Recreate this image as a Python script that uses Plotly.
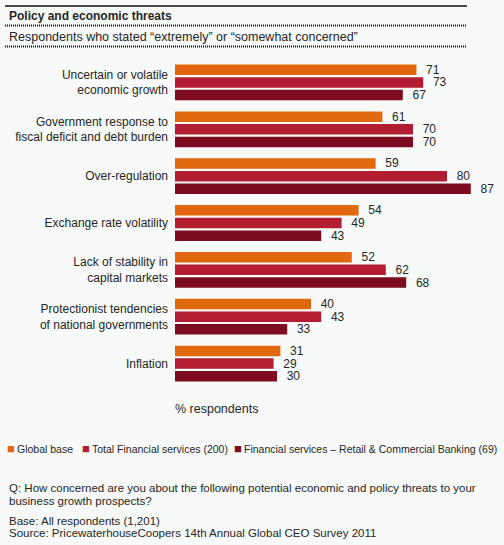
import plotly.graph_objects as go

# data
threats = [
    "Uncertain or volatile<br>economic growth",
    "Government response to<br>fiscal deficit and debt burden",
    "Over-regulation",
    "Exchange rate volatility",
    "Lack of stability in<br>capital markets",
    "Protectionist tendencies<br>of national governments",
    "Inflation",
]
global_base = [71, 61, 59, 54, 52, 40, 31]
total_fs = [73, 70, 80, 49, 62, 43, 29]
retail_banking = [67, 70, 87, 43, 68, 33, 30]

series_names = [
    "Global base",
    "Total Financial services (200)",
    "Financial services \u2013 Retail & Commercial Banking (69)",
]
colors = ["#E1680F", "#B31D32", "#7D0C20"]

W, H = 504, 545
L, R, T, B = 175, 4, 59, 158
PW, PH = W - L - R, H - T - B
BG = "#F7FAF8"
FONT = "Arial, Liberation Sans, sans-serif"
TXT = "#262626"


def px_x(px):
    return (px - L) / PW


def px_y(py):
    return (H - B - py) / PH


fig = go.Figure()
for name, vals, col in zip(series_names, [global_base, total_fs, retail_banking], colors):
    fig.add_trace(go.Bar(
        y=threats, x=vals, name=name, orientation="h",
        marker=dict(color=col, line=dict(width=0)),
        text=vals, texttemplate="\u00a0\u00a0%{text}", textposition="outside",
        constraintext="none",
        textfont=dict(size=12, color=TXT, family=FONT),
        cliponaxis=False, showlegend=False,
    ))

fig.update_layout(
    width=W, height=H,
    margin=dict(l=L, r=R, t=T, b=B),
    barmode="group", bargap=0.19, bargroupgap=0.17,
    paper_bgcolor=BG, plot_bgcolor=BG,
    font=dict(family=FONT, size=12, color=TXT),
    xaxis=dict(range=[0, PW / 3.4], showgrid=False, zeroline=False,
               showticklabels=False, ticks=""),
    yaxis=dict(autorange="reversed", categoryorder="array", categoryarray=threats,
               showgrid=False, ticks="", ticklabelstandoff=6,
               tickfont=dict(size=12, color=TXT)),
)

# header lines
fig.add_shape(type="line", xref="paper", yref="paper",
              x0=px_x(5), x1=px_x(467), y0=px_y(6), y1=px_y(6),
              line=dict(color="#111111", width=1.5))
for yy in [25.5, 46.5]:
    fig.add_shape(type="line", xref="paper", yref="paper",
                  x0=px_x(5), x1=px_x(467), y0=px_y(yy), y1=px_y(yy),
                  line=dict(color="#111111", width=2, dash="1px,1px"))

notes = [
    ("<b>Policy and economic threats</b>", 7, 16, 12),
    ("Respondents who stated \u201cextremely\u201d or \u201csomewhat concerned\u201d", 7, 36.5, 12.5),
    ("Q: How concerned are you about the following potential economic and policy threats to your", 7, 488, 11.5),
    ("business growth prospects?", 7, 500.5, 11.5),
    ("Base: All respondents (1,201)", 7, 520.5, 11.5),
    ("Source: PricewaterhouseCoopers 14th Annual Global CEO Survey 2011", 7, 533, 11.5),
]
for txt, x, y, size in notes:
    fig.add_annotation(text=txt, xref="paper", yref="paper", x=px_x(x), y=px_y(y),
                       xanchor="left", yanchor="middle", showarrow=False,
                       font=dict(size=size, color=TXT, family=FONT))

fig.add_annotation(text="% respondents", xref="paper", yref="paper",
                   x=px_x(216), y=px_y(409), xanchor="center", yanchor="middle",
                   showarrow=False, font=dict(size=12.5, color=TXT, family=FONT))

# legend drawn as annotations
legend_x = [5, 80, 232]
for name, col, x in zip(series_names, colors, legend_x):
    fig.add_annotation(
        text=f'<span style="color:{col};font-size:13px">\u25a0</span>\u2009{name}',
        xref="paper", yref="paper", x=px_x(x), y=px_y(448),
        xanchor="left", yanchor="middle", showarrow=False,
        font=dict(size=10.5, color=TXT, family=FONT))

# page body has a default margin; drop it so the figure sits at the top-left
fig.write_html("out.html", config={"displayModeBar": False},
               post_script="document.body.style.margin='0';")
